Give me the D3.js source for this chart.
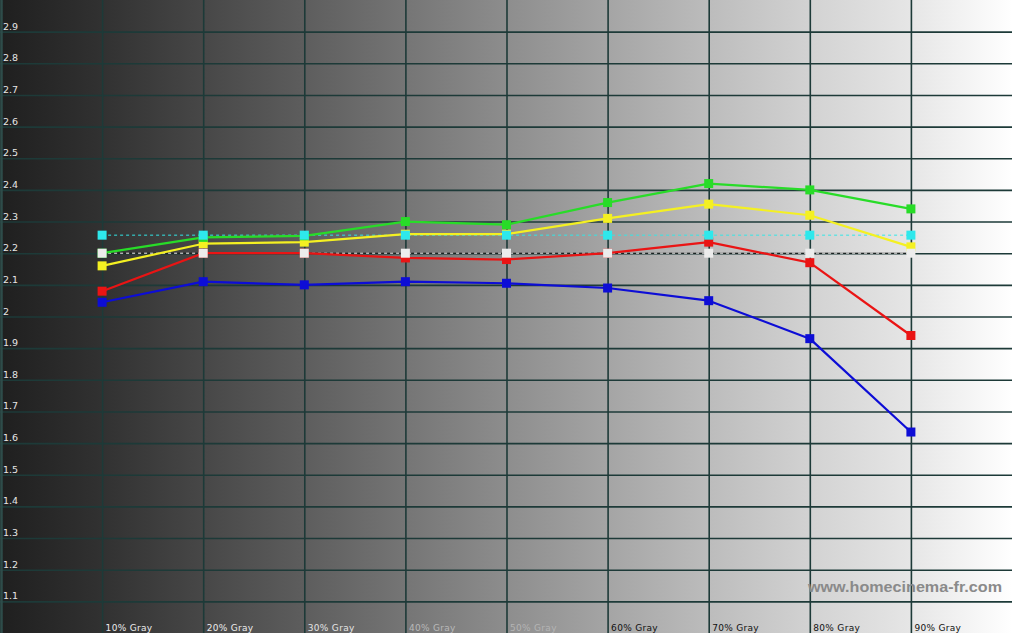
<!DOCTYPE html>
<html><head><meta charset="utf-8">
<script src="https://cdn.jsdelivr.net/npm/d3@7"></script>
<style>html,body{margin:0;padding:0;background:#fff;overflow:hidden}</style>
</head><body>
<svg id="chart" width="1012" height="633"></svg>
<script>
// ---- data ----
const levels = [10, 20, 30, 40, 50, 60, 70, 80, 90];
const categories = ["10% Gray", "20% Gray", "30% Gray", "40% Gray", "50% Gray", "60% Gray", "70% Gray", "80% Gray", "90% Gray"];
const greenGamma  = [2.20, 2.25, 2.255, 2.30, 2.29, 2.36, 2.42, 2.40, 2.34];
const yellowGamma = [2.16, 2.23, 2.235, 2.26, 2.26, 2.31, 2.355, 2.32, 2.22];
const redGamma    = [2.08, 2.20, 2.20, 2.185, 2.18, 2.20, 2.235, 2.17, 1.94];
const blueGamma   = [2.045, 2.11, 2.10, 2.11, 2.105, 2.09, 2.05, 1.93, 1.635];
const targetCyan  = [2.257, 2.257, 2.257, 2.257, 2.257, 2.257, 2.257, 2.257, 2.257];
const targetWhite = [2.20, 2.20, 2.20, 2.20, 2.20, 2.20, 2.20, 2.20, 2.20];
const yTicks = [1.1, 1.2, 1.3, 1.4, 1.5, 1.6, 1.7, 1.8, 1.9, 2.0, 2.1, 2.2, 2.3, 2.4, 2.5, 2.6, 2.7, 2.8, 2.9];
const xGridLevels = [0, 10, 20, 30, 40, 50, 60, 70, 80, 90];
const labelColors = ["#ececec", "#ececec", "#e4e4e4", "#b8b8b8", "#b4b4b4", "#111", "#111", "#111", "#111"];

// ---- chart ----
const W = 1012, H = 633;
const svg = d3.select("#chart");
const x = d3.scaleLinear().domain([0, 100]).range([1, W]);
const y = d3.scaleLinear().domain([1, 3]).range([H, 0]);

const defs = svg.append("defs");
const grad = defs.append("linearGradient").attr("id", "bg").attr("x1", 0).attr("x2", 1).attr("y1", 0).attr("y2", 0);
[[0, "#1f1f1f"], [0.1, "#313131"], [0.3, "#5d5d5d"], [0.5, "#8d8d8d"], [0.7, "#bcbcbc"], [0.8, "#d2d2d2"], [0.9, "#e6e6e6"], [1, "#ffffff"]]
  .forEach(([o, c]) => grad.append("stop").attr("offset", o).attr("stop-color", c));
svg.append("rect").attr("width", W).attr("height", H).attr("fill", "url(#bg)");

const font = "'DejaVu Sans', Verdana, sans-serif";
const gridColor = "#1d3a38";

// horizontal grid + y labels
const gy = svg.append("g")
  .call(d3.axisLeft(y).tickValues(yTicks).tickSize(-W).tickFormat(d3.format("~g")));
gy.select(".domain").remove();
gy.selectAll(".tick line").attr("stroke", gridColor).attr("stroke-width", 1.6);
gy.selectAll(".tick text")
  .attr("x", 3).attr("dy", null).attr("y", -2.5)
  .attr("text-anchor", "start")
  .attr("fill", "#e6e6e6")
  .style("font-family", font).style("font-size", "9.5px");

// vertical grid + x labels
const gx = svg.append("g").attr("transform", `translate(0,${H})`)
  .call(d3.axisBottom(x).tickValues(xGridLevels).tickSize(-H)
    .tickFormat(d => { const i = levels.indexOf(d); return i >= 0 ? categories[i] : ""; }));
gx.select(".domain").remove();
gx.selectAll(".tick line").attr("stroke", (d) => d === 0 ? "#2e4c4a" : gridColor).attr("stroke-width", d => d === 0 ? 2.5 : 1.6);
gx.selectAll(".tick text")
  .attr("x", 3).attr("dy", null).attr("y", -2)
  .attr("text-anchor", "start")
  .attr("fill", d => { const i = levels.indexOf(d); return i >= 0 ? labelColors[i] : "none"; })
  .style("font-family", font).style("font-size", "9px").style("letter-spacing", "0.3px");

// watermark
svg.append("text").attr("x", 808).attr("y", 592)
  .attr("textLength", 194).attr("lengthAdjust", "spacingAndGlyphs")
  .attr("fill", "#8a8a8a")
  .style("font-family", "'Liberation Sans', Arial, sans-serif").style("font-weight", "bold").style("font-size", "15.5px")
  .text("www.homecinema-fr.com");

const line = d3.line().x((d, i) => x(levels[i])).y(d => y(d));

// target dashed lines
svg.append("path").datum(targetWhite).attr("d", line).attr("fill", "none").attr("stroke", "#1a1a1a").attr("stroke-width", 1);
svg.append("path").datum(targetWhite).attr("d", line).attr("fill", "none").attr("stroke", "#f2f2f2").attr("stroke-width", 1).attr("stroke-dasharray", "3,3");
svg.append("path").datum(targetCyan).attr("d", line).attr("fill", "none").attr("stroke", "#33e6e6").attr("stroke-width", 1).attr("stroke-dasharray", "3,3");

const series = [
  { values: blueGamma, color: "#0d0dd6" },
  { values: redGamma, color: "#ea1414" },
  { values: yellowGamma, color: "#f4f022" },
  { values: greenGamma, color: "#28dc28" }
];
const ms = 9;
series.forEach(s => {
  svg.append("path").datum(s.values).attr("d", line).attr("fill", "none")
    .attr("stroke", s.color).attr("stroke-width", 2.2).attr("stroke-linejoin", "round");
});
series.forEach(s => {
  svg.append("g").selectAll("rect").data(s.values).join("rect")
    .attr("x", (d, i) => x(levels[i]) - ms / 2).attr("y", d => y(d) - ms / 2)
    .attr("width", ms).attr("height", ms).attr("fill", s.color);
});
[{ values: targetWhite, color: "#ececec" }, { values: targetCyan, color: "#2ee8ec" }].forEach(s => {
  svg.append("g").selectAll("rect").data(s.values).join("rect")
    .attr("x", (d, i) => x(levels[i]) - ms / 2).attr("y", d => y(d) - ms / 2)
    .attr("width", ms).attr("height", ms).attr("fill", s.color);
});
</script>
</body></html>
